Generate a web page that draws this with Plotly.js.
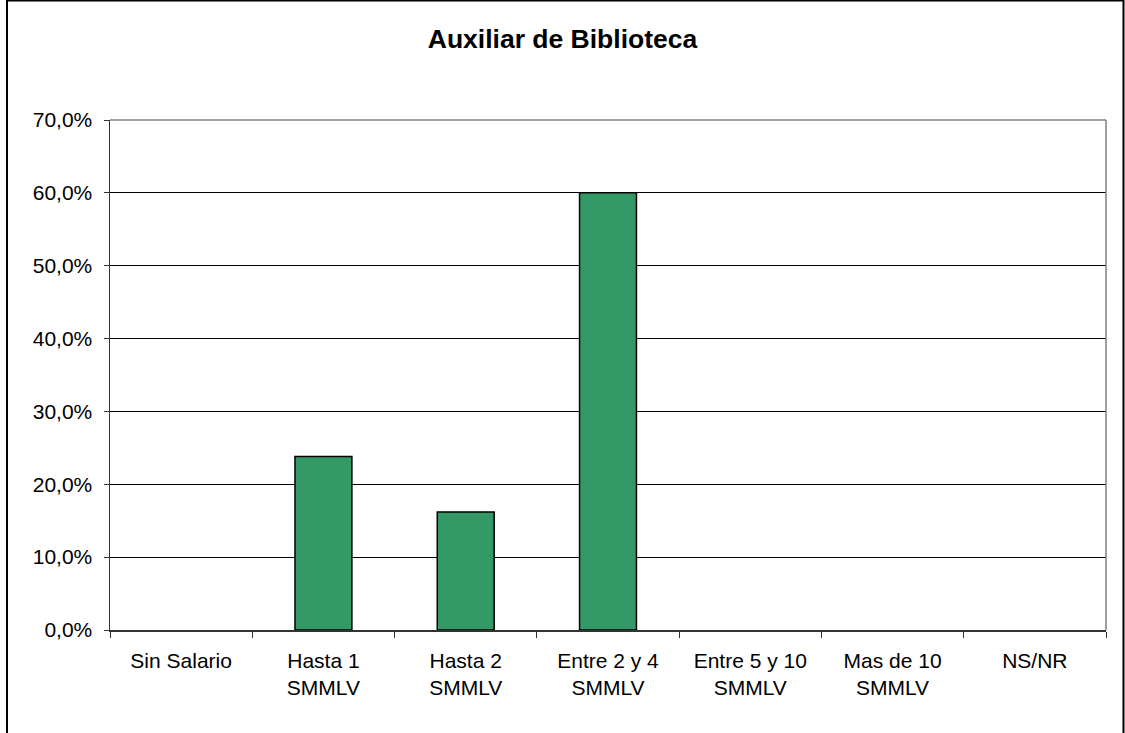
<!DOCTYPE html>
<html>
<head>
<meta charset="utf-8">
<script src="https://cdn.plot.ly/plotly-3.0.1.min.js"></script>
<style>
html,body{margin:0;padding:0;background:#fff;}
#chart{width:1125px;height:733px;}
</style>
</head>
<body>
<div id="chart"></div>
<script>
const categories = ["Sin Salario", "Hasta 1<br>SMMLV", "Hasta 2<br>SMMLV", "Entre 2 y 4<br>SMMLV", "Entre 5 y 10<br>SMMLV", "Mas de 10<br>SMMLV", "NS/NR"];
const values = [0, 23.8, 16.2, 60.0, 0, 0, 0];
const chartTitle = "Auxiliar de Biblioteca";

const FONT = '"Liberation Sans", Arial, sans-serif';

const trace = {
  type: 'bar',
  x: categories,
  y: values,
  marker: {color: '#339966', line: {color: '#000000', width: values.map(v => v > 0 ? 1.5 : 0)}},
  hoverinfo: 'x+y'
};

const L = 110, R = 1106, T = 120, B = 630.5, W = 1125, H = 733;
const pw = R - L, ph = B - T;
function px(x){ return (x - L) / pw; }
function py(y){ return (B - y) / ph; }

const layout = {
  width: W, height: H,
  margin: {l: L, r: W - R, t: T, b: H - B, pad: 0},
  paper_bgcolor: '#ffffff',
  plot_bgcolor: '#ffffff',
  font: {family: FONT, size: 21, color: '#000000'},
  separators: ',.',
  showlegend: false,
  bargap: 0.6,
  title: {
    text: '<b>' + chartTitle + '</b>',
    font: {family: FONT, size: 26.5, color: '#000000'},
    x: 0.5, xref: 'container', xanchor: 'center',
    y: 1 - 39 / H, yref: 'container', yanchor: 'middle'
  },
  xaxis: {
    type: 'category',
    showline: true, linecolor: '#333333', linewidth: 1.5,
    ticks: 'outside', tickson: 'boundaries', ticklen: 6, tickcolor: '#333333', tickwidth: 1,
    ticklabelstandoff: 11,
    showgrid: false,
    tickfont: {family: FONT, size: 21, color: '#000000'},
    fixedrange: true
  },
  yaxis: {
    range: [0, 70], dtick: 10, tick0: 0,
    tickformat: '.1f', ticksuffix: '%',
    showline: true, linecolor: '#333333', linewidth: 1.5,
    ticks: 'outside', ticklen: 5, tickcolor: '#333333', tickwidth: 1,
    ticklabelstandoff: 7,
    showgrid: true, gridcolor: '#000000', gridwidth: 1,
    zeroline: false,
    tickfont: {family: FONT, size: 21, color: '#000000'},
    fixedrange: true
  },
  shapes: [
    {type: 'line', xref: 'paper', yref: 'paper', x0: 0, x1: 1, y0: 1, y1: 1, line: {color: '#808080', width: 1.5}, layer: 'above'},
    {type: 'line', xref: 'paper', yref: 'paper', x0: 1, x1: 1, y0: 0, y1: 1, line: {color: '#808080', width: 1.5}, layer: 'above'},
    {type: 'rect', xref: 'paper', yref: 'paper', x0: px(7), x1: px(1123.5), y0: py(740), y1: py(0.5), line: {color: '#000000', width: 2}, fillcolor: 'rgba(0,0,0,0)', layer: 'above'}
  ]
};

Plotly.newPlot('chart', [trace], layout, {displayModeBar: false, staticPlot: true});
</script>
</body>
</html>
